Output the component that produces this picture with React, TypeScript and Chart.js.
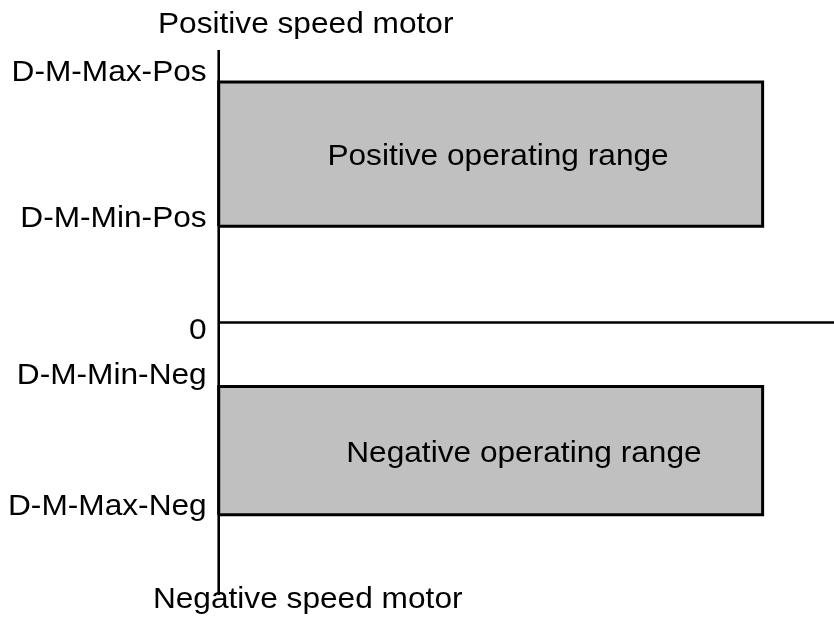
import React, { useEffect, useRef } from "react";
import { Chart, registerables } from "chart.js";

Chart.register(...registerables);

// Speed levels (schematic units)
const levelNames = ["D-M-Max-Pos", "D-M-Min-Pos", "0", "D-M-Min-Neg", "D-M-Max-Neg"];
const levelValues = [1500, 600, 0, -400, -1200];
// Operating ranges: [from, to] in speed, extent along x
const rangeNames = ["Positive operating range", "Negative operating range"];
const rangeLow = [600, -1200];
const rangeHigh = [1500, -400];
const rangeEnd = [88.4, 88.4];
const rangeLabelX = [45.4, 49.6];
const axisTitles = ["Positive speed motor", "Negative speed motor"];

const X_MIN = 0;
const X_MAX = 100;
const Y_MIN = -1700;
const Y_MAX = 1700;

const FONT = '30px "Liberation Sans", Arial, sans-serif';
const SX = 1.055;

function drawText(ctx: CanvasRenderingContext2D, text: string, x: number, y: number, align: "left" | "right" | "center") {
  ctx.save();
  ctx.font = FONT;
  ctx.fillStyle = "#000";
  ctx.textBaseline = "alphabetic";
  const w = ctx.measureText(text).width * SX;
  let left = x;
  if (align === "right") left = x - w;
  else if (align === "center") left = x - w / 2;
  ctx.translate(left, y);
  ctx.scale(SX, 1);
  ctx.textAlign = "left";
  ctx.fillText(text, 0, 0);
  ctx.restore();
}

const textPlugin = {
  id: "textPlugin",
  afterDraw(chart: any) {
    const ctx = chart.ctx as CanvasRenderingContext2D;
    const xs = chart.scales.x;
    const ys = chart.scales.y;
    const axisX = xs.getPixelForValue(0);
    const labelOffsets = [-1, 1, 16.5, -3, 0];
    levelNames.forEach((name, i) => {
      drawText(ctx, name, axisX - 12, ys.getPixelForValue(levelValues[i]) + labelOffsets[i], "right");
    });
    rangeNames.forEach((name, i) => {
      const mid = (rangeLow[i] + rangeHigh[i]) / 2;
      drawText(ctx, name, xs.getPixelForValue(rangeLabelX[i]), ys.getPixelForValue(mid) + 11, "center");
    });
    drawText(ctx, axisTitles[0], axisX + 87, 33, "center");
    drawText(ctx, axisTitles[1], axisX + 89, 608, "center");
  },
};

export default function App() {
  const ref = useRef<HTMLCanvasElement | null>(null);
  useEffect(() => {
    if (!ref.current) return;
    const rects = rangeNames.map((name, i) => ({
      label: name,
      data: [
        { x: 0, y: rangeLow[i] },
        { x: rangeEnd[i], y: rangeLow[i] },
        { x: rangeEnd[i], y: rangeHigh[i] },
        { x: 0, y: rangeHigh[i] },
        { x: 0, y: rangeLow[i] },
      ],
      showLine: true,
      fill: "shape",
      backgroundColor: "#c0c0c0",
      borderColor: "#000",
      borderWidth: 3,
      pointRadius: 0,
      tension: 0,
      clip: false,
      borderJoinStyle: "miter" as const,
    }));
    const chart = new Chart(ref.current, {
      type: "scatter",
      data: {
        datasets: [
          ...rects,
          {
            label: "zero",
            data: [
              { x: X_MIN, y: 0 },
              { x: X_MAX, y: 0 },
            ],
            showLine: true,
            borderColor: "#000",
            borderWidth: 2.6,
            pointRadius: 0,
            clip: false,
          },
          {
            label: "axis",
            data: [
              { x: 0, y: Y_MIN },
              { x: 0, y: Y_MAX },
            ],
            showLine: true,
            borderColor: "#000",
            borderWidth: 2.6,
            pointRadius: 0,
            clip: false,
          },
        ] as any,
      },
      options: {
        animation: false,
        responsive: false,
        devicePixelRatio: 1,
        layout: { padding: { left: 218.7, right: 0, top: 50, bottom: 29 } },
        plugins: { legend: { display: false }, tooltip: { enabled: false } },
        scales: {
          x: { type: "linear", min: X_MIN, max: X_MAX, display: false },
          y: { type: "linear", min: Y_MIN, max: Y_MAX, display: false },
        },
      },
      plugins: [textPlugin],
    });
    return () => chart.destroy();
  }, []);
  return (
    <div style={{ position: "absolute", left: 0, top: 0, width: 834, height: 624, background: "#fff" }}>
      <canvas ref={ref} width={834} height={624} />
    </div>
  );
}
